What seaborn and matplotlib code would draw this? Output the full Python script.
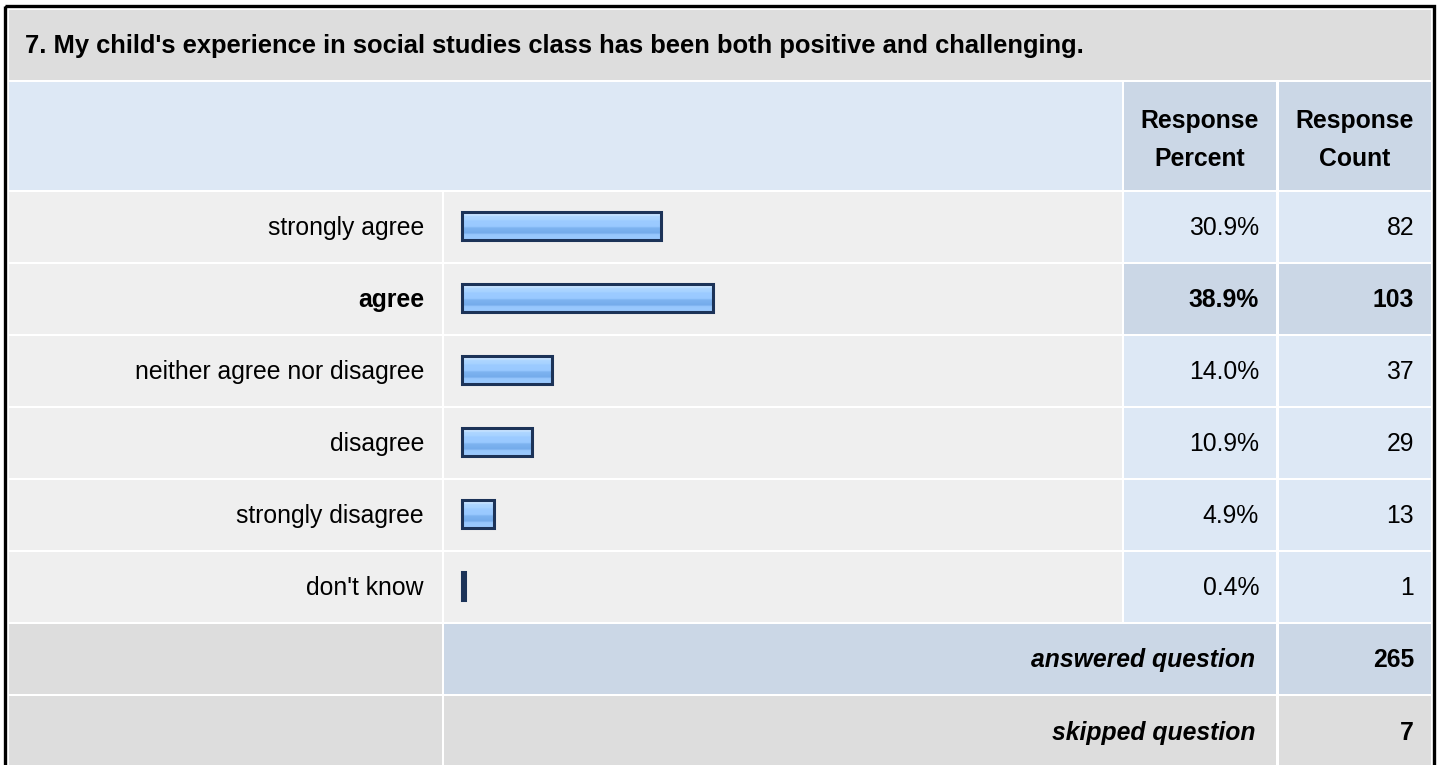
import numpy as np
import matplotlib
matplotlib.use("Agg")
import matplotlib.pyplot as plt
from matplotlib.patches import Rectangle
from matplotlib.colors import LinearSegmentedColormap
import seaborn as sns

# ---------------- data ----------------
title = "7. My child's experience in social studies class has been both positive and challenging."
categories = ["strongly agree", "agree", "neither agree nor disagree",
              "disagree", "strongly disagree", "don't know"]
percents = [30.9, 38.9, 14.0, 10.9, 4.9, 0.4]
counts = [82, 103, 37, 29, 13, 1]
header_percent = "Response\nPercent"
header_count = "Response\nCount"
answered_label = "answered question"
answered_count = 265
skipped_label = "skipped question"
skipped_count = 7

# ---------------- style ----------------
plt.rcParams['font.family'] = ['Liberation Sans', 'DejaVu Sans']
FS = 17.8
FS_T = 18.4
W, H = 1440, 765
C_TITLE = "#dddddd"
C_HEAD = "#dde8f5"
C_HEADCELL = "#cbd7e6"
C_ROW = "#efefef"
C_CELL = "#dde8f5"
C_HI = "#cbd7e6"
C_EDGE = "#1c3358"

fig = plt.figure(figsize=(W / 100, H / 100), dpi=100)
fig.patch.set_facecolor("white")
ax = fig.add_axes([0, 0, 1, 1])
ax.set_xlim(0, W)
ax.set_ylim(H, 0)
ax.axis("off")


def cell(x0, y0, x1, y1, color):
    ax.add_patch(Rectangle((x0, y0), x1 - x0, y1 - y0, facecolor=color,
                           edgecolor="none", zorder=1))


# column edges
LX0, LX1 = 9, 442
BX0, BX1 = 444, 1122
PX0, PX1 = 1124, 1276
CX0, CX1 = 1279, 1431

# title row
cell(LX0, 10, CX1, 80, C_TITLE)
ax.text(25, 46, title, fontsize=FS_T, fontweight="bold", ha="left", va="center", zorder=3)

# header row
cell(LX0, 82, BX1, 190, C_HEAD)
cell(PX0, 82, PX1, 190, C_HEADCELL)
cell(CX0, 82, CX1, 190, C_HEADCELL)
ax.text((PX0 + PX1) / 2, 140, header_percent, fontsize=FS, fontweight="bold",
        ha="center", va="center", linespacing=1.72, zorder=3)
ax.text((CX0 + CX1) / 2, 140, header_count, fontsize=FS, fontweight="bold",
        ha="center", va="center", linespacing=1.72, zorder=3)

# data rows
ROW0, PITCH, RH = 192, 72, 70
hi = int(np.argmax(percents))
for i, (cat, p, c) in enumerate(zip(categories, percents, counts)):
    y0 = ROW0 + PITCH * i
    yc = y0 + RH / 2 + 1
    bold = "bold" if i == hi else "normal"
    cell(LX0, y0, LX1, y0 + RH, C_ROW)
    cell(BX0, y0, BX1, y0 + RH, C_ROW)
    cell(PX0, y0, PX1, y0 + RH, C_HI if i == hi else C_CELL)
    cell(CX0, y0, CX1, y0 + RH, C_HI if i == hi else C_CELL)
    ax.text(424, yc, cat, fontsize=FS, fontweight=bold, ha="right", va="center", zorder=3)
    ax.text(1259, yc, f"{p:.1f}%", fontsize=FS, fontweight=bold, ha="right", va="center", zorder=3)
    ax.text(1414, yc, f"{c}", fontsize=FS, fontweight=bold, ha="right", va="center", zorder=3)

# answered / skipped rows
ya = ROW0 + PITCH * len(categories)
cell(LX0, ya, LX1, ya + RH, C_TITLE)
cell(BX0, ya, PX1, ya + RH, C_HI)
cell(CX0, ya, CX1, ya + RH, C_HI)
ax.text(1255, ya + RH / 2 + 1, answered_label, fontsize=FS, fontweight="bold",
        fontstyle="italic", ha="right", va="center", zorder=3)
ax.text(1414, ya + RH / 2 + 1, f"{answered_count}", fontsize=FS, fontweight="bold",
        ha="right", va="center", zorder=3)
ys = ya + PITCH
cell(LX0, ys, LX1, ys + RH + 10, C_TITLE)
cell(BX0, ys, PX1, ys + RH + 10, C_TITLE)
cell(CX0, ys, CX1, ys + RH + 10, C_TITLE)
ax.text(1255, ys + RH / 2 + 2, skipped_label, fontsize=FS, fontweight="bold",
        fontstyle="italic", ha="right", va="center", zorder=3)
ax.text(1414, ys + RH / 2 + 2, f"{skipped_count}", fontsize=FS, fontweight="bold",
        ha="right", va="center", zorder=3)

# outer border
ax.add_patch(Rectangle((5, 6), 1429, 800, facecolor="none", edgecolor="black",
                       linewidth=2.4, zorder=5))

# ---------------- bars (seaborn) ----------------
bar_top = ROW0 - 2
bar_h = PITCH * len(categories)
bax = fig.add_axes([BX0 / W, 1 - (bar_top + bar_h) / H, (BX1 - BX0) / W, bar_h / H])
bax.patch.set_alpha(0)
sns.barplot(x=percents, y=categories, orient="h", ax=bax, width=0.385,
            color="#99ccff", edgecolor=C_EDGE, linewidth=2.2, errorbar=None)
px_per = 6.44
x0px = 462.0
bax.axis("off")

grad = LinearSegmentedColormap.from_list("bar", [
    (0.0, "#d2e9ff"), (0.12, "#c2e0ff"), (0.14, "#aed6ff"), (0.28, "#a6d2ff"),
    (0.31, "#9ccbff"), (0.52, "#99c9ff"), (0.57, "#7db3f0"), (0.76, "#74abeb"),
    (0.80, "#96c6fc"), (1.0, "#9ccbff")])
g = np.linspace(0, 1, 64).reshape(-1, 1)
for patch in bax.patches:
    bx, by = patch.get_x(), patch.get_y()
    bw, bh = patch.get_width(), patch.get_height()
    im = bax.imshow(g, cmap=grad, aspect="auto", origin="upper",
                    extent=[bx, bx + bw, by + bh, by], zorder=patch.get_zorder() - 0.1,
                    interpolation="bilinear")
    im.set_clip_path(patch)
    patch.set_facecolor("none")
bax.set_xlim(-(x0px - BX0) / px_per, (BX1 - x0px) / px_per)
bax.set_ylim(len(categories) - 0.5, -0.5)

fig.savefig("out.png", dpi=100)
